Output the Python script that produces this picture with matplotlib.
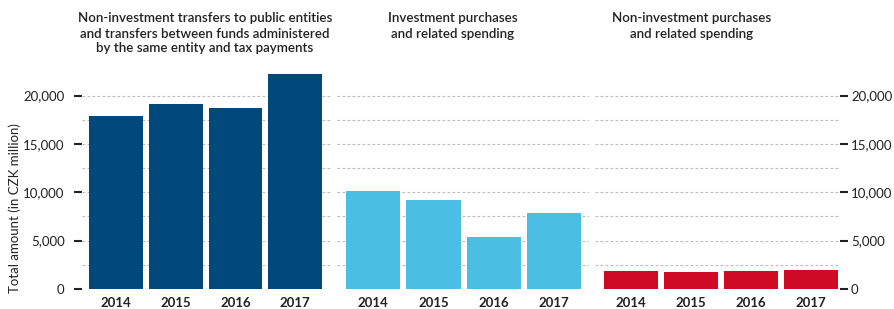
import matplotlib
matplotlib.use("Agg")
import matplotlib.pyplot as plt
from matplotlib.ticker import FuncFormatter, MultipleLocator

plt.rcParams['font.family'] = ['Lato', 'DejaVu Sans']

years = ['2014', '2015', '2016', '2017']
transfers = [17850, 19170, 18760, 22200]
investment = [10100, 9170, 5350, 7830]
non_investment = [1830, 1730, 1830, 1930]

titles = [
    'Non-investment transfers to public entities\nand transfers between funds administered\nby the same entity and tax payments',
    'Investment purchases\nand related spending',
    'Non-investment purchases\nand related spending',
]
colors = ['#00497A', '#4BBEE3', '#CE0A24']
series = [transfers, investment, non_investment]

W, H = 894, 309
fig = plt.figure(figsize=(W / 100, H / 100), dpi=100)

# axes rectangles in pixels: left, width ; and xlims
rects = [(82, 249, (-0.57, 3.6)), (337, 252, (-0.6, 3.58)), (595, 245, (-0.6, 3.48))]
y0_px, ytop_px = 289, 72.4
title_x = [205, 453, 692]

axes = []
for i, (left, width, xl) in enumerate(rects):
    ax = fig.add_axes([left / W, (H - y0_px) / H, width / W, (y0_px - ytop_px) / H])
    ax.bar(range(4), series[i], width=0.9, color=colors[i], zorder=2)
    ax.set_xlim(*xl)
    ax.set_ylim(0, 22400)
    ax.set_xticks(range(4))
    ax.set_xticklabels(years, fontsize=9.5, fontweight='bold', color='#222222')
    ax.tick_params(axis='x', length=0, pad=6)
    for s in ax.spines.values():
        s.set_visible(False)
    ax.yaxis.set_major_locator(MultipleLocator(5000))
    ax.yaxis.set_major_formatter(FuncFormatter(lambda v, p: f'{int(v):,}'))
    for g in range(2500, 20001, 2500):
        ax.axhline(g, color='#bdbdbd', lw=0.8, ls=(0, (2.5, 2)), zorder=1)
    fig.text(title_x[i] / W, 1 - 12.5 / H, titles[i], ha='center', va='top',
             fontsize=9.6, fontweight='semibold', color='#222222', linespacing=1.3)
    axes.append(ax)

axes[0].tick_params(axis='y', length=6, width=1.5, color='#222222', pad=6.5,
                    labelsize=9.5, labelcolor='#222222')
axes[1].tick_params(axis='y', left=False, labelleft=False)
axes[2].yaxis.tick_right()
axes[2].tick_params(axis='y', length=6, width=1.5, color='#222222', pad=2,
                    labelsize=9.5, labelcolor='#222222')

fig.text(15 / W, 1 - 208 / H, 'Total amount (in CZK million)', rotation=90,
         ha='center', va='center', fontsize=9.5, color='#222222')

fig.savefig('out.png', dpi=100)
